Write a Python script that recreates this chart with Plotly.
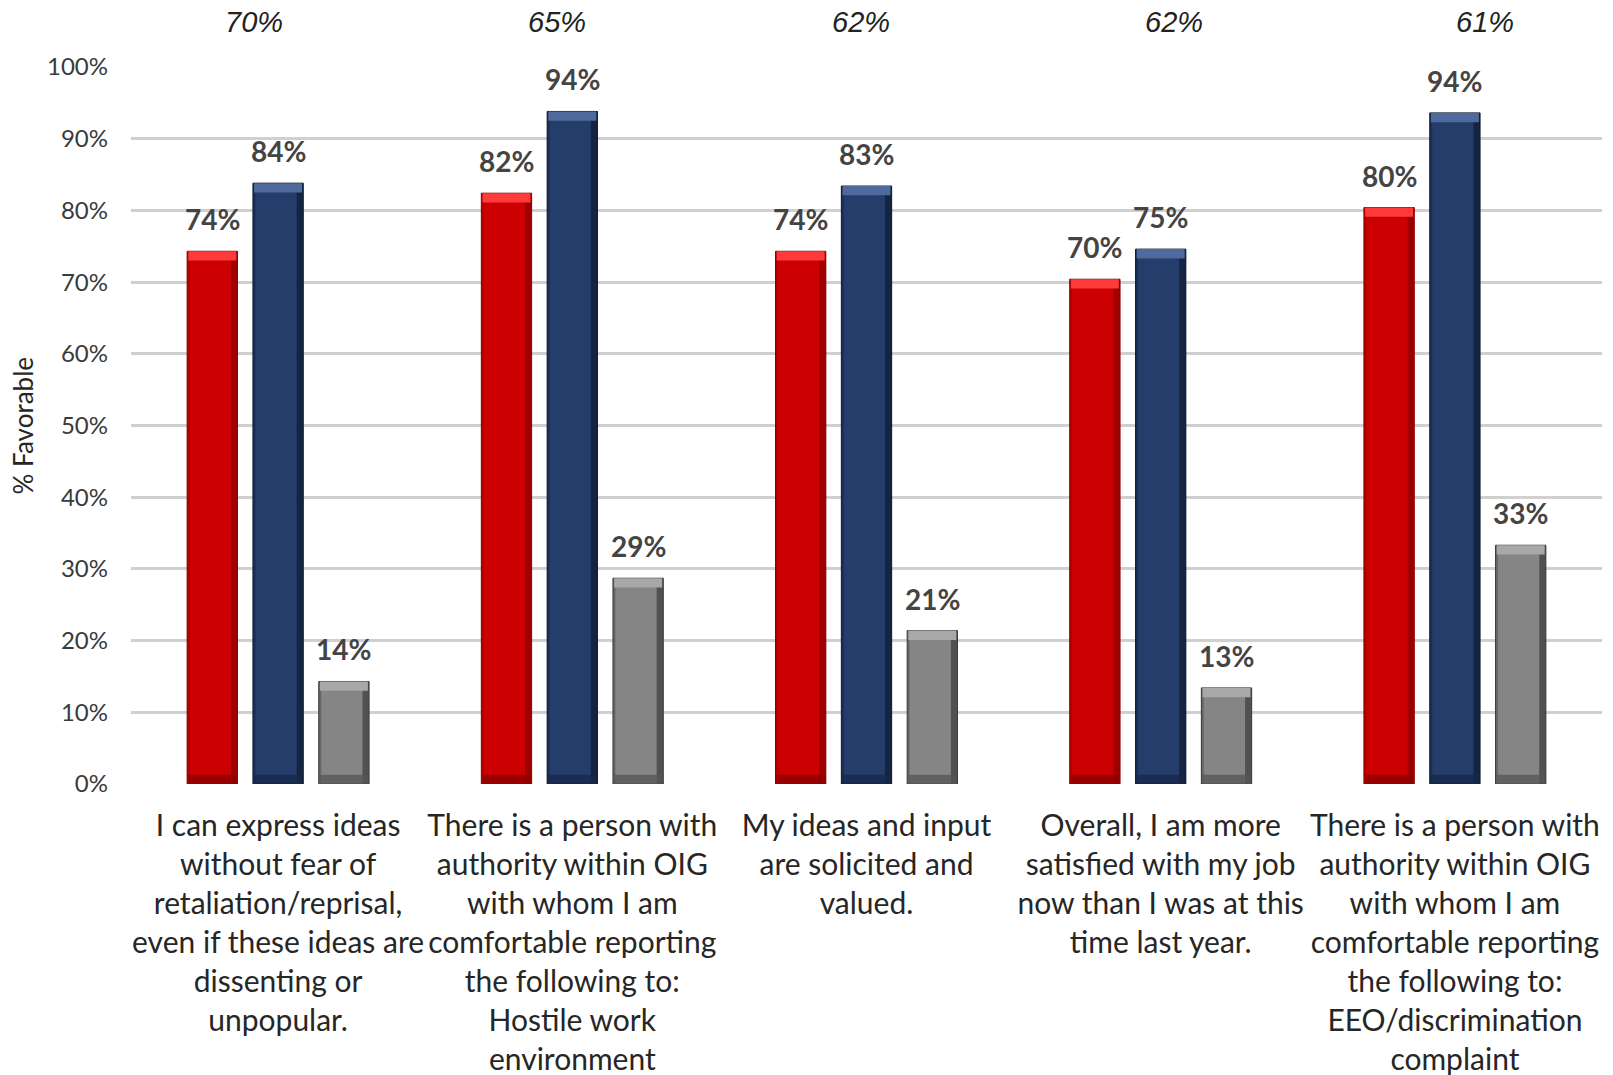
import plotly.graph_objects as go

# ---------------- data ----------------
categories = [
    "I can express ideas<br>without fear of<br>retaliation/reprisal,<br>even if these ideas are<br>dissenting or<br>unpopular.",
    "There is a person with<br>authority within OIG<br>with whom I am<br>comfortable reporting<br>the following to:<br>Hostile work<br>environment",
    "My ideas and input<br>are solicited and<br>valued.",
    "Overall, I am more<br>satisfied with my job<br>now than I was at this<br>time last year.",
    "There is a person with<br>authority within OIG<br>with whom I am<br>comfortable reporting<br>the following to:<br>EEO/discrimination<br>complaint",
]
series_red = [74.3, 82.4, 74.3, 70.4, 80.4]
series_blue = [83.8, 93.8, 83.4, 74.6, 93.6]
series_gray = [14.3, 28.7, 21.4, 13.4, 33.3]
top_values = [70, 65, 62, 62, 61]
y_ticks = [0, 10, 20, 30, 40, 50, 60, 70, 80, 90, 100]

# ---------------- style ----------------
BAR_W = 0.171
PITCH = 0.2237
series = [
    # values, main, top bevel, bottom bevel, edge dark, center offset
    (series_red, "#cc0000", "#ff3a3a", "#8a0000", "#8a0000", -PITCH),
    (series_blue, "#243d6b", "#4f6a9c", "#17274a", "#0f1a30", 0.0),
    (series_gray, "#858585", "#a8a8a8", "#555555", "#3a3a3a", PITCH),
]

x_idx = list(range(len(categories)))
fig = go.Figure()

BEV = 1.3     # bevel strip height (data units)
EDGE = 0.014  # edge strip width (data units)

for vals, main, top, bot, edk, c in series:
    left = c - BAR_W / 2
    # main bar
    fig.add_trace(go.Bar(x=x_idx, y=vals, width=BAR_W, offset=left,
                         marker=dict(color=main, line=dict(color=edk, width=1)),
                         hoverinfo="skip", showlegend=False))
    # right dark edge
    fig.add_trace(go.Bar(x=x_idx, y=vals, width=EDGE * 1.6, offset=left + BAR_W - EDGE * 1.6,
                         marker=dict(color=edk, line=dict(width=0)),
                         opacity=0.7, hoverinfo="skip", showlegend=False))
    # left thin edge
    fig.add_trace(go.Bar(x=x_idx, y=vals, width=EDGE * 0.6, offset=left,
                         marker=dict(color=edk, line=dict(width=0)),
                         opacity=0.4, hoverinfo="skip", showlegend=False))
    # top bevel
    fig.add_trace(go.Bar(x=x_idx, y=[BEV] * len(vals), base=[v - BEV for v in vals],
                         width=BAR_W - 0.008, offset=left + 0.004,
                         marker=dict(color=top, line=dict(width=0)),
                         hoverinfo="skip", showlegend=False))
    # bottom bevel
    fig.add_trace(go.Bar(x=x_idx, y=[BEV] * len(vals), base=[0] * len(vals),
                         width=BAR_W - 0.008, offset=left + 0.004,
                         marker=dict(color=bot, line=dict(width=0)),
                         opacity=0.75, hoverinfo="skip", showlegend=False))

annotations = []
# value labels above bars
for vals, *_rest in series:
    c = _rest[-1]
    for i, v in zip(x_idx, vals):
        annotations.append(dict(
            x=i + c, y=v, xref="x", yref="y", text=f"{round(v)}%",
            showarrow=False, yanchor="bottom", yshift=13,
            font=dict(family="Lato", size=28, color="#444444", weight="bold")))

# overall italic labels on top
top_shift = [-24, -15, -6, 13, 30]
for i, (tv, sh) in enumerate(zip(top_values, top_shift)):
    annotations.append(dict(
        x=i, y=1.063, xref="x", yref="paper", text=f"<i>{tv}%</i>",
        showarrow=False, xshift=sh, yanchor="middle",
        font=dict(family="Liberation Sans", size=29, color="#222222")))

# y axis title
annotations.append(dict(
    x=-0.0735, y=0.5, xref="paper", yref="paper", text="% Favorable",
    textangle=-90, showarrow=False, xanchor="center", yanchor="middle",
    font=dict(family="Lato", size=26, color="#262626")))

fig.update_layout(
    width=1613, height=1075,
    margin=dict(l=131, r=11, t=67, b=291, autoexpand=False),
    barmode="overlay",
    plot_bgcolor="white", paper_bgcolor="white",
    annotations=annotations,
    xaxis=dict(
        range=[-0.5, 4.5], tickmode="array", tickvals=x_idx, ticktext=categories,
        showgrid=False, zeroline=False, showline=False, ticks="",
        ticklabelstandoff=21,
        tickfont=dict(family="Lato", size=30, color="#262626"),
    ),
    yaxis=dict(
        range=[0, 100], tickmode="array", tickvals=y_ticks,
        ticktext=[f"{t}%" for t in y_ticks],
        showgrid=True, gridcolor="#d0d0d0", gridwidth=3,
        zeroline=False, showline=False, ticks="",
        ticklabelstandoff=22,
        tickfont=dict(family="Lato", size=24, color="#3a3a3a"),
    ),
)

fig.write_html("out.html")
